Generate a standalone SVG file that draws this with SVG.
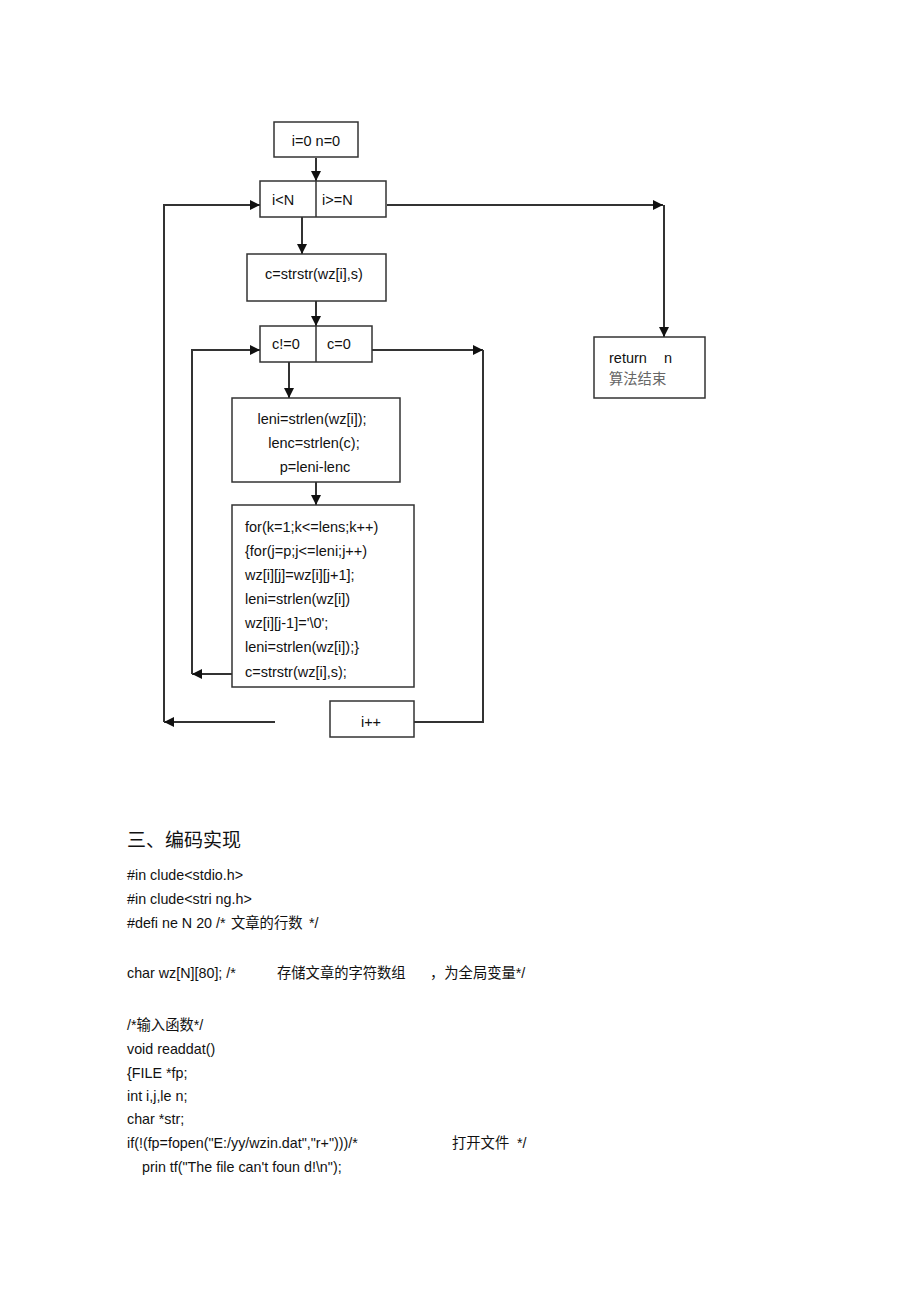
<svg xmlns="http://www.w3.org/2000/svg" width="920" height="1303" viewBox="0 0 920 1303">
<defs>
<marker id="ah" viewBox="0 0 10 10" refX="10" refY="5" markerUnits="userSpaceOnUse" markerWidth="10" markerHeight="10" orient="auto">
<path d="M0,0 L10,5 L0,10 z" fill="#111"/>
</marker>
<style>
.box{fill:#fff;stroke:#333;stroke-width:1.5}
.ln{fill:none;stroke:#333;stroke-width:2}
.t{font-family:"Liberation Sans",Arial,sans-serif;font-size:14.5px;fill:#111}
.c{font-family:"Liberation Sans",Arial,"Noto Sans CJK SC",sans-serif;font-size:14.3px;fill:#111}
.h{font-family:"Noto Sans CJK SC","Liberation Sans",sans-serif;font-size:19px;fill:#111}
.g{font-family:"Noto Sans CJK SC",sans-serif;font-size:14.3px;fill:#666}
</style>
</defs>
<rect width="920" height="1303" fill="#fff"/>

<g id="connectors">
<path class="ln" d="M316,158 V181" marker-end="url(#ah)"/>
<path class="ln" d="M302,217 V254" marker-end="url(#ah)"/>
<path class="ln" d="M316,301 V326" marker-end="url(#ah)"/>
<path class="ln" d="M289,362 V398" marker-end="url(#ah)"/>
<path class="ln" d="M316,482 V505" marker-end="url(#ah)"/>
<path class="ln" d="M387,205 H663" marker-end="url(#ah)"/>
<path class="ln" d="M664,205 V337" marker-end="url(#ah)"/>
<path class="ln" d="M232,674 H192" marker-end="url(#ah)"/>
<path class="ln" d="M192,674 V350 H260" marker-end="url(#ah)"/>
<path class="ln" d="M372,350 H483" marker-end="url(#ah)"/>
<path class="ln" d="M414,722 H483 V350"/>
<path class="ln" d="M275,722 H164" marker-end="url(#ah)"/>
<path class="ln" d="M164,722 V205 H260" marker-end="url(#ah)"/>
</g>

<g id="init">
<rect class="box" x="274" y="122" width="84" height="35"/>
<text class="t" x="316" y="146" text-anchor="middle">i=0 n=0</text>
</g>

<g id="cond-i">
<rect class="box" x="260" y="181" width="126" height="36"/>
<line x1="316" y1="181" x2="316" y2="217" stroke="#333" stroke-width="1.5"/>
<text class="t" x="272" y="205">i&lt;N</text>
<text class="t" x="322" y="205">i&gt;=N</text>
</g>

<g id="strstr">
<rect class="box" x="247" y="254" width="139" height="47"/>
<text class="t" x="314" y="279" text-anchor="middle">c=strstr(wz[i],s)</text>
</g>

<g id="cond-c">
<rect class="box" x="260" y="326" width="112" height="36"/>
<line x1="316" y1="326" x2="316" y2="362" stroke="#333" stroke-width="1.5"/>
<text class="t" x="272" y="349">c!=0</text>
<text class="t" x="327" y="349">c=0</text>
</g>

<g id="lens">
<rect class="box" x="232" y="398" width="168" height="84"/>
<text class="t" x="312" y="424" text-anchor="middle">leni=strlen(wz[i]);</text>
<text class="t" x="314" y="448" text-anchor="middle">lenc=strlen(c);</text>
<text class="t" x="315" y="472" text-anchor="middle">p=leni-lenc</text>
</g>

<g id="loop-body">
<rect class="box" x="232" y="505" width="182" height="182"/>
<text class="t" x="245" y="532">for(k=1;k&lt;=lens;k++)</text>
<text class="t" x="245" y="556">{for(j=p;j&lt;=leni;j++)</text>
<text class="t" x="245" y="580">wz[i][j]=wz[i][j+1];</text>
<text class="t" x="245" y="604">leni=strlen(wz[i])</text>
<text class="t" x="245" y="628">wz[i][j-1]='\0';</text>
<text class="t" x="245" y="652">leni=strlen(wz[i]);}</text>
<text class="t" x="245" y="677">c=strstr(wz[i],s);</text>
</g>

<g id="inc">
<rect class="box" x="330" y="701" width="84" height="36"/>
<text class="t" x="371" y="727" text-anchor="middle">i++</text>
</g>

<g id="return">
<rect class="box" x="594" y="337" width="111" height="61"/>
<text class="t" x="609" y="363">return</text>
<text class="t" x="664" y="363">n</text>
<text class="g" x="609" y="384">算法结束</text>
</g>

<g id="code">
<text class="h" x="127" y="847">三、编码实现</text>
<text class="c" x="127" y="880">#in clude&lt;stdio.h&gt;</text>
<text class="c" x="127" y="904">#in clude&lt;stri ng.h&gt;</text>
<text class="c" x="127" y="928">#defi ne N 20 /*</text>
<text class="c" x="231" y="928">文章的行数</text>
<text class="c" x="309" y="928">*/</text>
<text class="c" x="127" y="978">char wz[N][80]; /*</text>
<text class="c" x="277" y="978">存储文章的字符数组</text>
<text class="c" x="430" y="978">，为全局变量*/</text>
<text class="c" x="127" y="1030">/*输入函数*/</text>
<text class="c" x="127" y="1054">void readdat()</text>
<text class="c" x="127" y="1078">{FILE *fp;</text>
<text class="c" x="127" y="1101">int i,j,le n;</text>
<text class="c" x="127" y="1124">char *str;</text>
<text class="c" x="127" y="1148">if(!(fp=fopen("E:/yy/wzin.dat","r+")))/*</text>
<text class="c" x="452" y="1148">打开文件</text>
<text class="c" x="517" y="1148">*/</text>
<text class="c" x="142" y="1172">prin tf("The file can't foun d!\n");</text>
</g>
</svg>
